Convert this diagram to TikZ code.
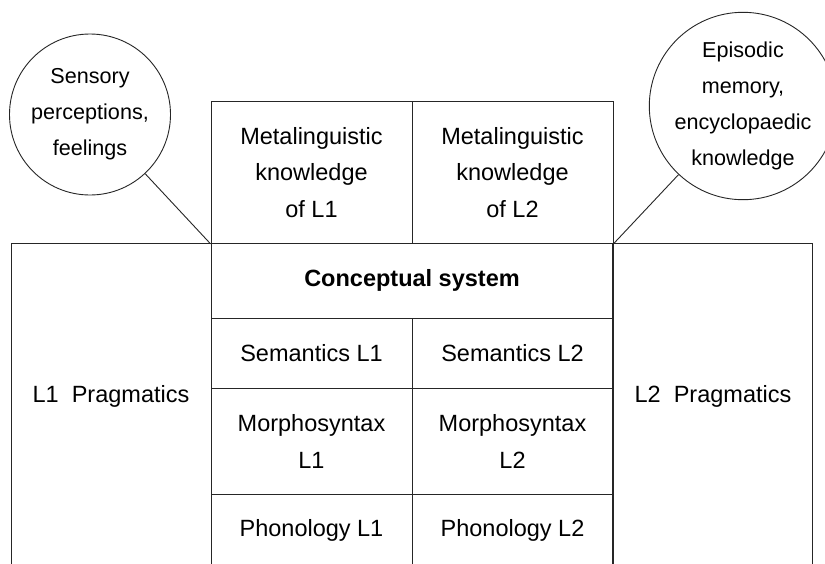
\documentclass[tikz,border=0pt]{standalone}
\usepackage{fontspec}
\setmainfont{Liberation Sans}
\begin{document}
\begin{tikzpicture}[x=1pt,y=-1pt,
  cell/.style={draw=black!85, line width=1pt, rectangle, inner sep=0pt, align=center,
    font=\fontsize{23.5}{36.5}\selectfont},
  frame/.style={draw=black!85, line width=1pt, rectangle, inner sep=0pt},
  txt/.style={inner sep=0pt, align=center, font=\fontsize{23.5}{36.5}\selectfont},
  bubble/.style={draw=black!85, line width=0.9pt, circle, inner sep=0pt, align=center,
    font=\fontsize{21.6}{36}\selectfont},
  link/.style={draw=black!85, line width=0.9pt}]
\useasboundingbox (0,0) rectangle (825,563);
\clip (0,0) rectangle (825,563);
\fill[white] (0,0) rectangle (825,563);
% side frames
\node[frame, minimum width=200pt, minimum height=340pt, anchor=north west] (lframe) at (11,243.3) {};
\node[frame, minimum width=200pt, minimum height=340pt, anchor=north east] (rframe) at (813,243.3) {};
\node[txt] (lprag) at (111,396) {L1\ \ Pragmatics};
\node[txt] (rprag) at (713,396) {L2\ \ Pragmatics};
% central column
\node[cell, minimum width=201pt, minimum height=141.8pt] (meta1) at (311.5,172.4) {Metalinguistic\\knowledge\\of L1};
\node[cell, minimum width=201pt, minimum height=141.8pt] (meta2) at (512.5,172.4) {Metalinguistic\\knowledge\\of L2};
\node[cell, minimum width=402pt, minimum height=75pt, font=\fontsize{23.5}{36.5}\selectfont\bfseries] (concept) at (412,280.8) {Conceptual system};
\node[cell, minimum width=201pt, minimum height=69.7pt] (sem1) at (311.5,353.2) {Semantics L1};
\node[cell, minimum width=201pt, minimum height=69.7pt] (sem2) at (512.5,353.2) {Semantics L2};
\node[cell, minimum width=201pt, minimum height=106.5pt] (mor1) at (311.5,441.25) {Morphosyntax\\L1};
\node[cell, minimum width=201pt, minimum height=106.5pt] (mor2) at (512.5,441.25) {Morphosyntax\\L2};
\node[cell, minimum width=201pt, minimum height=72pt] (pho1) at (311.5,530.5) {Phonology L1};
\node[cell, minimum width=201pt, minimum height=72pt] (pho2) at (512.5,530.5) {Phonology L2};
% bubbles
\node[bubble, minimum size=161pt] (lcirc) at (90,114.5) {Sensory\\perceptions,\\feelings};
\node[bubble, minimum size=184pt] (rcirc) at (743,106) {Episodic\\memory,\\encyclopaedic\\knowledge};
\draw[link] (lcirc) -- (meta1.south west);
\draw[link] (rcirc) -- (meta2.south east);
\end{tikzpicture}
\end{document}
